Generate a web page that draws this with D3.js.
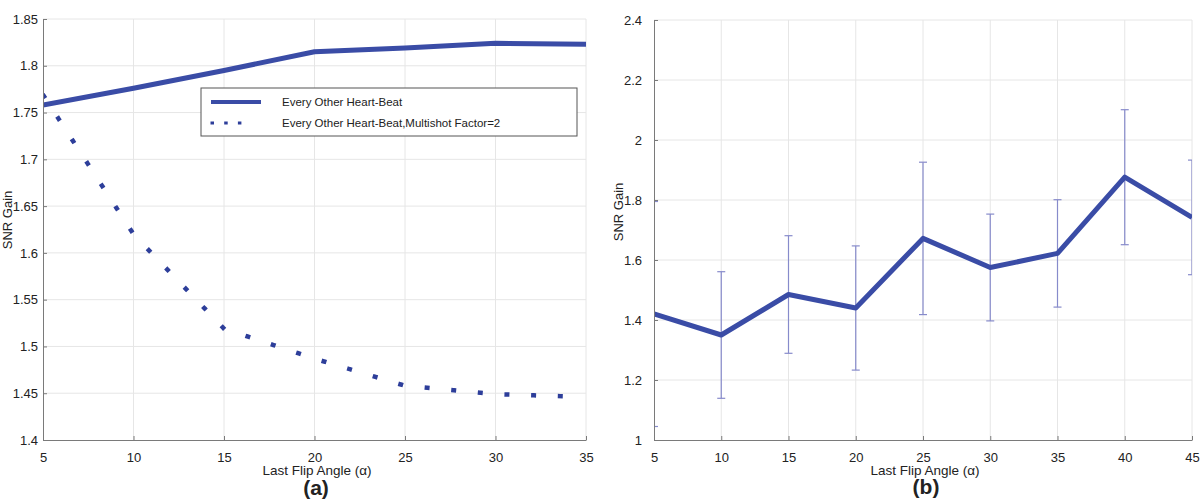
<!DOCTYPE html>
<html><head><meta charset="utf-8">
<script src="https://cdn.jsdelivr.net/npm/d3@7"></script>
<style>
body{margin:0;background:#fff}
text{font-family:"Liberation Sans",Arial,sans-serif;fill:#222}
</style>
</head><body>
<svg id="chart" width="1200" height="500"></svg>
<script>
// ---------- Panel (a) data ----------
const flipA = [5, 10, 15, 20, 25, 30, 35];
const gainEveryOther = [1.758, 1.776, 1.795, 1.815, 1.819, 1.824, 1.823];
const gainMultishot = [1.769, 1.620, 1.519, 1.487, 1.458, 1.449, 1.446];
const ticksAx = [5, 10, 15, 20, 25, 30, 35];
const ticksAy = [1.4, 1.45, 1.5, 1.55, 1.6, 1.65, 1.7, 1.75, 1.8, 1.85];
const labelsAy = ["1.4", "1.45", "1.5", "1.55", "1.6", "1.65", "1.7", "1.75", "1.8", "1.85"];
const legendLabels = ["Every Other Heart-Beat", "Every Other Heart-Beat,Multishot Factor=2"];

// ---------- Panel (b) data ----------
const flipB = [5, 10, 15, 20, 25, 30, 35, 40, 45];
const gainB = [1.42, 1.35, 1.485, 1.44, 1.672, 1.575, 1.622, 1.876, 1.742];
const lowB  = [1.045, 1.139, 1.289, 1.233, 1.418, 1.397, 1.443, 1.651, 1.551];
const highB = [1.795, 1.561, 1.681, 1.647, 1.926, 1.753, 1.801, 2.101, 1.933];
const ticksBx = [5, 10, 15, 20, 25, 30, 35, 40, 45];
const ticksBy = [1, 1.2, 1.4, 1.6, 1.8, 2, 2.2, 2.4];
const labelsBy = ["1", "1.2", "1.4", "1.6", "1.8", "2", "2.2", "2.4"];

const xTitle = "Last Flip Angle (\u03b1)";
const yTitle = "SNR Gain";

const lineColor = "#3a4ca6";
const dotColor = "#2d3e9a";
const errColor = "#878bcb";
const gridColor = "#e6e6e6";
const axisColor = "#7a7a7a";

const svg = d3.select("#chart");
const defs = svg.append("defs");

function panel(opts) {
  const {x, y, xticks, yticks, ylabels, ypad, id} = opts;
  const g = svg.append("g");
  const [x0, x1] = x.range();
  const [y0, y1] = y.range(); // y0 bottom, y1 top
  defs.append("clipPath").attr("id", id).append("rect")
    .attr("x", x0).attr("y", y1).attr("width", x1 - x0).attr("height", y0 - y1);
  // grid
  g.append("g").selectAll("line.v").data(xticks.slice(1)).join("line")
    .attr("x1", d => x(d)).attr("x2", d => x(d)).attr("y1", y0).attr("y2", y1)
    .attr("stroke", gridColor).attr("stroke-width", 1);
  g.append("g").selectAll("line.h").data(yticks.slice(1)).join("line")
    .attr("x1", x0).attr("x2", x1).attr("y1", d => y(d)).attr("y2", d => y(d))
    .attr("stroke", gridColor).attr("stroke-width", 1);
  const plot = g.append("g").attr("clip-path", `url(#${id})`);
  // axes
  const ax = g.append("g").attr("transform", `translate(0,${y0})`)
    .call(d3.axisBottom(x).tickValues(xticks).tickFormat(d3.format("d"))
      .tickSizeInner(-4).tickSizeOuter(0).tickPadding(13));
  const ay = g.append("g").attr("transform", `translate(${x0},0)`)
    .call(d3.axisLeft(y).tickValues(yticks).tickFormat((d, i) => ylabels[i])
      .tickSizeInner(-4).tickSizeOuter(0).tickPadding(ypad));
  [ax, ay].forEach(a => {
    a.select(".domain").attr("stroke", axisColor);
    a.selectAll(".tick line").attr("stroke", axisColor);
    a.selectAll(".tick text").attr("font-size", 13).attr("fill", "#222");
  });
  return {g, plot};
}

// ---------- Panel (a) ----------
const xA = d3.scaleLinear([5, 35], [43, 586]);
const yA = d3.scaleLinear([1.4, 1.85], [440, 19]);
const pA = panel({x: xA, y: yA, xticks: ticksAx, yticks: ticksAy, ylabels: labelsAy, ypad: 5, id: "clipA"});

const lineA = d3.line().x((d, i) => xA(flipA[i])).y(d => yA(d));
pA.plot.append("path").datum(gainEveryOther).attr("d", lineA)
  .attr("fill", "none").attr("stroke", lineColor).attr("stroke-width", 5).attr("stroke-linejoin", "round");
pA.plot.append("path").datum(gainMultishot).attr("d", lineA)
  .attr("fill", "none").attr("stroke", dotColor).attr("stroke-width", 4.5)
  .attr("stroke-linecap", "square").attr("stroke-dasharray", "0.5,26.2").attr("stroke-dashoffset", -1.5);

// legend
const leg = pA.g.append("g");
leg.append("rect").attr("x", 201).attr("y", 88).attr("width", 376).attr("height", 48)
  .attr("fill", "#fff").attr("stroke", "#555").attr("stroke-width", 1);
leg.append("line").attr("x1", 211).attr("x2", 261).attr("y1", 102).attr("y2", 102)
  .attr("stroke", lineColor).attr("stroke-width", 4);
leg.append("line").attr("x1", 212).attr("x2", 253).attr("y1", 123).attr("y2", 123)
  .attr("stroke", dotColor).attr("stroke-width", 3).attr("stroke-linecap", "square")
  .attr("stroke-dasharray", "0.5,13.2");
leg.selectAll("text").data(legendLabels).join("text")
  .attr("x", 282).attr("y", (d, i) => 102 + i * 21).attr("dy", "0.35em")
  .attr("font-size", 11.5).text(d => d);

// titles (a)
pA.g.append("text").attr("x", 317).attr("y", 475).attr("text-anchor", "middle")
  .attr("font-size", 13.5).text(xTitle);
pA.g.append("text").attr("transform", "translate(12,220) rotate(-90)").attr("text-anchor", "middle")
  .attr("font-size", 13).text(yTitle);
pA.g.append("text").attr("x", 316).attr("y", 495).attr("text-anchor", "middle")
  .attr("font-size", 21).attr("font-weight", "bold").text("(a)");

// ---------- Panel (b) ----------
const xB = d3.scaleLinear([5, 45], [654, 1192]);
const yB = d3.scaleLinear([1, 2.4], [440, 20]);
const pB = panel({x: xB, y: yB, xticks: ticksBx, yticks: ticksBy, ylabels: labelsBy, ypad: 12, id: "clipB"});

const eb = pB.plot.append("g").attr("stroke", errColor).attr("stroke-width", 1.2);
flipB.forEach((f, i) => {
  const cx = xB(f);
  eb.append("line").attr("x1", cx).attr("x2", cx).attr("y1", yB(lowB[i])).attr("y2", yB(highB[i]));
  eb.append("line").attr("x1", cx - 4).attr("x2", cx + 4).attr("y1", yB(lowB[i])).attr("y2", yB(lowB[i]));
  eb.append("line").attr("x1", cx - 4).attr("x2", cx + 4).attr("y1", yB(highB[i])).attr("y2", yB(highB[i]));
});
const lineB = d3.line().x((d, i) => xB(flipB[i])).y(d => yB(d));
pB.plot.append("path").datum(gainB).attr("d", lineB)
  .attr("fill", "none").attr("stroke", lineColor).attr("stroke-width", 5).attr("stroke-linejoin", "round");

pB.g.append("text").attr("x", 925).attr("y", 475).attr("text-anchor", "middle")
  .attr("font-size", 13.5).text(xTitle);
pB.g.append("text").attr("transform", "translate(623,212) rotate(-90)").attr("text-anchor", "middle")
  .attr("font-size", 13).text(yTitle);
pB.g.append("text").attr("x", 926).attr("y", 494).attr("text-anchor", "middle")
  .attr("font-size", 21).attr("font-weight", "bold").text("(b)");
</script>
</body></html>
